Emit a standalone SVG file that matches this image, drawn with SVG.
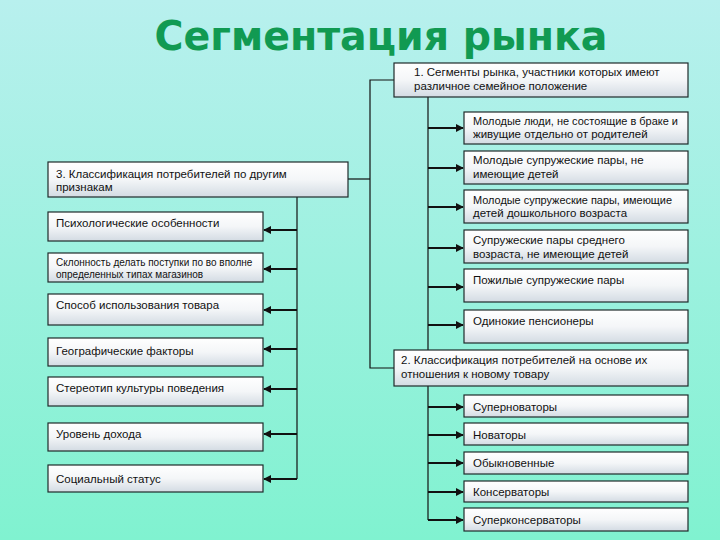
<svg xmlns="http://www.w3.org/2000/svg" width="720" height="540" viewBox="0 0 720 540">
<defs>
<linearGradient id="bg" x1="0" y1="0" x2="0" y2="1">
<stop offset="0" stop-color="#b8f0ee"/>
<stop offset="1" stop-color="#80f2d0"/>
</linearGradient>
<linearGradient id="box" x1="0" y1="0" x2="0" y2="1">
<stop offset="0" stop-color="#ffffff"/>
<stop offset="0.5" stop-color="#f4f6f8"/>
<stop offset="1" stop-color="#d3dbe3"/>
</linearGradient>
<marker id="ah" viewBox="0 0 10 10" refX="9" refY="5" markerWidth="4" markerHeight="4" orient="auto" markerUnits="strokeWidth">
<path d="M0,0 L10,5 L0,10 z" fill="#111"/>
</marker>
</defs>
<style>
.b{fill:url(#box);stroke:#1e2a2a;stroke-width:1.2}
.t{font-family:"Liberation Sans",Arial,sans-serif;font-size:11.5px;fill:#111}
.s{font-family:"Liberation Sans",Arial,sans-serif;font-size:10px;fill:#111}
.l{stroke:#111;stroke-width:1.2;fill:none}
.a{stroke:#111;stroke-width:2;fill:none;marker-end:url(#ah)}
</style>
<rect width="720" height="540" fill="url(#bg)"/>
<text x="381" y="50" text-anchor="middle" font-family="'DejaVu Sans',Verdana,sans-serif" font-weight="bold" font-size="40" fill="#119a52" textLength="453" lengthAdjust="spacingAndGlyphs">Сегментация рынка</text>

<g id="connectors">
<path class="l" d="M394,80 H370 V368 H394"/>
<path class="l" d="M348,179 H370"/>
<path class="l" d="M428,97 V520"/>
<path class="a" d="M428,128 H463"/>
<path class="a" d="M428,168 H463"/>
<path class="a" d="M428,207 H463"/>
<path class="a" d="M428,248 H463"/>
<path class="a" d="M428,287 H463"/>
<path class="a" d="M428,325 H463"/>
<path class="a" d="M428,407 H463"/>
<path class="a" d="M428,435 H463"/>
<path class="a" d="M428,463 H463"/>
<path class="a" d="M428,492 H463"/>
<path class="a" d="M428,520 H463"/>
<path class="l" d="M297,197 V479"/>
<path class="a" d="M297,230 H264"/>
<path class="a" d="M297,269 H264"/>
<path class="a" d="M297,310 H264"/>
<path class="a" d="M297,349 H264"/>
<path class="a" d="M297,389 H264"/>
<path class="a" d="M297,434 H264"/>
<path class="a" d="M297,479 H264"/>
</g>

<g id="n1"><rect class="b" x="394" y="63" width="294" height="34"/>
<text class="t" x="414" y="76">1. Сегменты рынка, участники которых имеют</text>
<text class="t" x="414" y="90">различное семейное положение</text></g>
<g id="n1a"><rect class="b" x="464" y="112" width="224" height="32"/>
<text class="t" x="473" y="125" font-size="10.5" textLength="205" lengthAdjust="spacingAndGlyphs">Молодые люди, не состоящие в браке и</text>
<text class="t" x="473" y="138" font-size="10.5">живущие отдельно от родителей</text></g>
<g id="n1b"><rect class="b" x="464" y="151" width="224" height="33"/>
<text class="t" x="473" y="164">Молодые супружеские пары, не</text>
<text class="t" x="473" y="178">имеющие детей</text></g>
<g id="n1c"><rect class="b" x="464" y="190" width="224" height="33"/>
<text class="t" x="473" y="204" font-size="10.5" textLength="199" lengthAdjust="spacingAndGlyphs">Молодые супружеские пары, имеющие</text>
<text class="t" x="473" y="217" font-size="10.5">детей дошкольного возраста</text></g>
<g id="n1d"><rect class="b" x="464" y="230" width="224" height="33"/>
<text class="t" x="473" y="244">Супружеские пары среднего</text>
<text class="t" x="473" y="258">возраста, не имеющие детей</text></g>
<g id="n1e"><rect class="b" x="464" y="269" width="224" height="33"/>
<text class="t" x="473" y="284">Пожилые супружеские пары</text></g>
<g id="n1f"><rect class="b" x="464" y="310" width="224" height="33"/>
<text class="t" x="473" y="325">Одинокие пенсионеры</text></g>

<g id="n2"><rect class="b" x="394" y="350" width="294" height="36"/>
<text class="t" x="401" y="364">2. Классификация потребителей на основе их</text>
<text class="t" x="401" y="378">отношения к новому товару</text></g>
<g id="n2a"><rect class="b" x="464" y="395" width="224" height="22"/>
<text class="t" x="473" y="411">Суперноваторы</text></g>
<g id="n2b"><rect class="b" x="464" y="423" width="224" height="22"/>
<text class="t" x="473" y="439">Новаторы</text></g>
<g id="n2c"><rect class="b" x="464" y="452" width="224" height="22"/>
<text class="t" x="473" y="467">Обыкновенные</text></g>
<g id="n2d"><rect class="b" x="464" y="481" width="224" height="21"/>
<text class="t" x="473" y="496">Консерваторы</text></g>
<g id="n2e"><rect class="b" x="464" y="508" width="224" height="23"/>
<text class="t" x="473" y="524">Суперконсерваторы</text></g>

<g id="n3"><rect class="b" x="48" y="162" width="300" height="35"/>
<text class="t" x="56" y="178">3. Классификация потребителей по другим</text>
<text class="t" x="56" y="191">признакам</text></g>
<g id="n3a"><rect class="b" x="48" y="212" width="215" height="29"/>
<text class="t" x="56" y="227">Психологические особенности</text></g>
<g id="n3b"><rect class="b" x="48" y="253" width="215" height="29"/>
<text class="s" x="56" y="266">Склонность делать поступки по во вполне</text>
<text class="s" x="56" y="278">определенных типах магазинов</text></g>
<g id="n3c"><rect class="b" x="48" y="294" width="215" height="31"/>
<text class="t" x="56" y="309">Способ использования товара</text></g>
<g id="n3d"><rect class="b" x="48" y="338" width="215" height="28"/>
<text class="t" x="56" y="355">Географические факторы</text></g>
<g id="n3e"><rect class="b" x="48" y="377" width="215" height="29"/>
<text class="t" x="56" y="392">Стереотип культуры поведения</text></g>
<g id="n3f"><rect class="b" x="48" y="423" width="215" height="28"/>
<text class="t" x="56" y="438">Уровень дохода</text></g>
<g id="n3g"><rect class="b" x="48" y="465" width="215" height="27"/>
<text class="t" x="56" y="483">Социальный статус</text></g>
</svg>
